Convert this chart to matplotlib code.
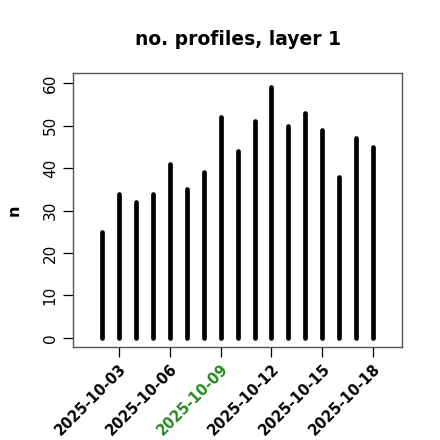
import numpy as np
import matplotlib
matplotlib.use("Agg")
from matplotlib import pyplot as plt
import matplotlib.dates as mdates

# datos
fechas = np.arange(np.datetime64("2025-10-02"), np.datetime64("2025-10-19"))
n_perfiles = [25, 34, 32, 34, 41, 35, 39, 52, 44, 51, 59, 50, 53, 49, 38, 47, 45]
ticks_x = ["2025-10-03", "2025-10-06", "2025-10-09", "2025-10-12", "2025-10-15", "2025-10-18"]
tick_verde = "2025-10-09"
ticks_y = [0, 10, 20, 30, 40, 50, 60]

fig = plt.figure(figsize=(4.4, 4.4), dpi=100)
ax = fig.add_axes([0.166, 0.211, 0.748, 0.623])

x = mdates.date2num(fechas.astype("datetime64[D]").astype(object))
ax.vlines(x, 0, n_perfiles, colors="black", linewidth=3.4, capstyle="round")

x0 = mdates.date2num(np.datetime64("2025-10-01").astype(object))
x1 = mdates.date2num(np.datetime64("2025-10-19").astype(object))
ax.set_xlim(x0 - 0.72, x1 + 0.72)
ax.set_ylim(-2.2, 62.4)

xt = [mdates.date2num(np.datetime64(t).astype(object)) for t in ticks_x]
ax.set_xticks(xt)
ax.set_xticklabels(ticks_x, rotation=45, ha="right", va="top",
                   rotation_mode="anchor", fontsize=10.5, fontweight="bold")
ax.set_yticks(ticks_y)
ax.set_yticklabels([str(v) for v in ticks_y], rotation=90, va="center", fontsize=11)
ax.tick_params(direction="out", length=7, width=0.9, colors="black")
ax.tick_params(axis="x", pad=3)
ax.tick_params(axis="y", pad=4)

for s in ax.spines.values():
    s.set_color("#555555")
    s.set_linewidth(1.0)

ax.set_ylabel("n", fontweight="bold", fontsize=11.5, labelpad=15)
ax.set_title("no. profiles, layer 1", fontweight="bold", fontsize=13.5, pad=20)

# la fecha marcada en verde
fig.canvas.draw()
for tick in ax.xaxis.get_major_ticks():
    if tick.label1.get_text() == tick_verde:
        tick.label1.set_color("#228B22")

plt.savefig("out.png", dpi=100)
